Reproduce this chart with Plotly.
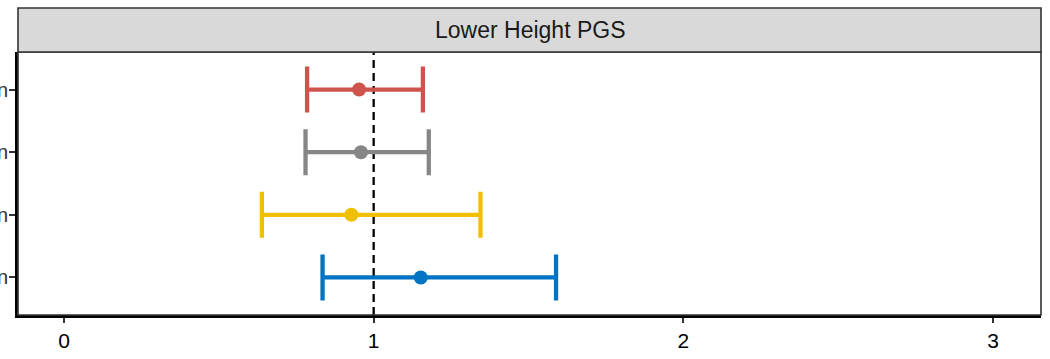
import plotly.graph_objects as go

# Data
categories = ["Admixed American", "East Asian", "African", "European"]  # bottom -> top
estimates = [1.152, 0.928, 0.959, 0.953]
lower = [0.835, 0.639, 0.780, 0.785]
upper = [1.589, 1.345, 1.178, 1.159]
colors = ["#0073C2", "#EFC000", "#868686", "#CD534C"]
x_ticks = [0, 1, 2, 3]
facet_title = "Lower Height PGS"

fig = go.Figure()
for cat, est, lo, hi, col in zip(categories, estimates, lower, upper, colors):
    fig.add_trace(go.Scatter(
        x=[est], y=[cat], mode="markers",
        marker=dict(color=col, size=14),
        error_x=dict(type="data", symmetric=False, array=[hi - est], arrayminus=[est - lo],
                     color=col, thickness=4.3, width=23),
        showlegend=False, cliponaxis=False,
    ))

fig.add_shape(type="line", xref="x", yref="paper", x0=1, x1=1, y0=0, y1=1,
              line=dict(color="black", width=2.3, dash="8px,5px"), layer="below")

# panel border
fig.add_shape(type="rect", xref="paper", yref="paper", x0=0, x1=1, y0=0, y1=1,
              line=dict(color="#333333", width=1.6), fillcolor="rgba(0,0,0,0)", layer="above")
# strip
plot_h = 359 - 52 - 44
fig.add_shape(type="rect", xref="paper", yref="paper", x0=0, x1=1, y0=1, y1=1 + 44 / plot_h,
              line=dict(color="#333333", width=1.6), fillcolor="#D9D9D9")
fig.add_annotation(text=facet_title, xref="paper", yref="paper", x=0.5, y=1 + 22 / plot_h,
                   showarrow=False, font=dict(size=23, color="#1A1A1A", family="Liberation Sans, Arial"),
                   xanchor="center", yanchor="middle")

fig.update_layout(
    width=1050, height=359,
    margin=dict(l=18, r=9, t=52, b=44),
    paper_bgcolor="white", plot_bgcolor="white",
    font=dict(family="Liberation Sans, Arial", color="black"),
)
fig.update_xaxes(range=[-0.1485, 3.155], tickvals=x_ticks, ticktext=[str(v) for v in x_ticks],
                 showgrid=False, zeroline=False, showline=True, linecolor="black", linewidth=2.5,
                 ticks="outside", ticklen=5, tickwidth=1.5, tickcolor="#333333",
                 tickfont=dict(size=21, color="black"), automargin=False)
fig.update_yaxes(type="category", categoryorder="array", categoryarray=categories,
                 range=[-0.6, 3.6], showgrid=False, zeroline=False, showline=True,
                 linecolor="black", linewidth=2.5, ticks="outside", ticklen=6, tickwidth=1.5,
                 tickcolor="#333333", tickfont=dict(size=20, color="#333333"), automargin=False,
                 ticklabelstandoff=-3)

fig.write_html("out.html", config={"displayModeBar": False},
               post_script="document.body.style.margin='0';")
